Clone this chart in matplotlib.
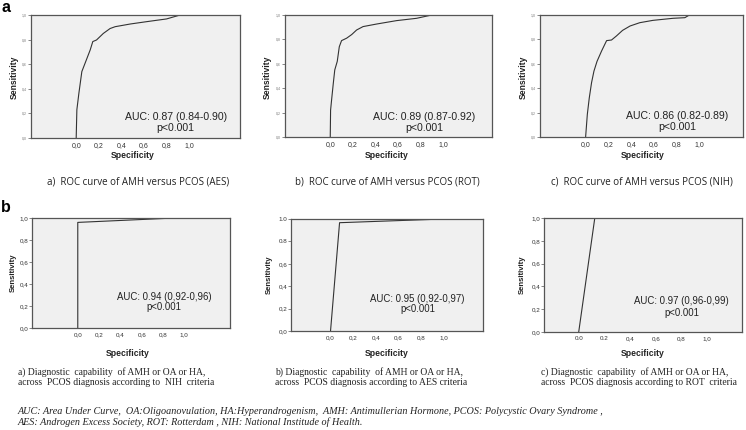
import matplotlib.pyplot as plt

W, H = 746, 430

# ROC curves, row a (x = 1 - specificity as drawn, y = sensitivity)
aes_x = [0.0, 0.006, 0.024, 0.05, 0.09, 0.124, 0.147, 0.18, 0.24, 0.30, 0.345, 0.48, 0.625, 0.80, 0.92, 1.0]
aes_y = [0.0, 0.23, 0.365, 0.54, 0.635, 0.716, 0.784, 0.797, 0.85, 0.89, 0.905, 0.927, 0.946, 0.968, 1.0, 1.0]

rot_x = [0.0, 0.003, 0.012, 0.027, 0.04, 0.062, 0.08, 0.10, 0.145, 0.19, 0.233, 0.29, 0.41, 0.587, 0.764, 0.897, 1.0]
rot_y = [0.0, 0.22, 0.305, 0.44, 0.55, 0.62, 0.74, 0.79, 0.81, 0.84, 0.877, 0.905, 0.926, 0.954, 0.973, 1.0, 1.0]

nih_x = [0.0, 0.015, 0.032, 0.052, 0.073, 0.10, 0.14, 0.184, 0.227, 0.27, 0.324, 0.39, 0.475, 0.59, 0.767, 0.87, 0.91, 1.0]
nih_y = [0.0, 0.186, 0.32, 0.445, 0.54, 0.62, 0.705, 0.79, 0.795, 0.828, 0.874, 0.91, 0.937, 0.956, 0.973, 0.978, 1.0, 1.0]

# row b
b1_x = [0.0, 0.0, 0.91, 1.0]
b1_y = [0.0, 0.96, 1.0, 1.0]
b2_x = [0.0, 0.08, 1.0]
b2_y = [0.0, 0.967, 1.0]
b3_x = [0.0, 0.125, 1.0]
b3_y = [0.0, 1.0, 1.0]

ticks = [0.0, 0.2, 0.4, 0.6, 0.8, 1.0]
comma_labels = ["0,0", "0,2", "0,4", "0,6", "0,8", "1,0"]
b2_ylabels = ["0,0", "0,2", "0,4", "0,6", "0.8", "1.0"]
b3_xlabels = ["0.0", "0.2", "0,4", "0,6", "0,8", "1,0"]

auc_a = ["AUC: 0.87 (0.84-0.90)", "AUC: 0.89 (0.87-0.92)", "AUC: 0.86 (0.82-0.89)"]
auc_b = ["AUC: 0.94 (0,92-0,96)", "AUC: 0.95 (0,92-0,97)", "AUC: 0.97 (0,96-0,99)"]

cap_a = ["a)  ROC curve of AMH versus PCOS (AES)",
         "b)  ROC curve of AMH versus PCOS (ROT)",
         "c)  ROC curve of AMH versus PCOS (NIH)"]
cap_b = ["a) Diagnostic  capability  of AMH or OA or HA,\nacross  PCOS diagnosis according to  NIH  criteria",
         "b) Diagnostic  capability  of AMH or OA or HA,\nacross  PCOS diagnosis according to AES criteria",
         "c) Diagnostic  capability  of AMH or OA or HA,\nacross  PCOS diagnosis according to ROT  criteria"]

footnote = ("AUC: Area Under Curve,  OA:Oligoanovulation, HA:Hyperandrogenism,  AMH: Antimullerian Hormone, "
            "PCOS: Polycystic Ovary Syndrome ,\n"
            "AES: Androgen Excess Society, ROT: Rotterdam , NIH: National Institude of Health.")

plt.rcParams['font.family'] = ['Liberation Sans', 'DejaVu Sans']

fig = plt.figure(figsize=(W / 100, H / 100), dpi=100)


def fx(px):
    return px / W


def fy(py):
    return 1 - py / H


def make_ax(l, r, t, b, xlim, x, y, auc, auc_pos, row, xlabels, ylabels):
    ax = fig.add_axes([fx(l), fy(b), (r - l) / W, (b - t) / H])
    ax.set_facecolor("#f0f0f0")
    ax.plot(x, y, color="#333333", lw=0.8)
    ax.set_xlim(*xlim)
    ax.set_ylim(0, 1)
    for s in ax.spines.values():
        s.set_color("#555555")
        s.set_linewidth(0.9)
    ax.set_xticks(ticks)
    ax.set_xticklabels(xlabels)
    ax.set_yticks(ticks)
    ax.set_yticklabels(ylabels)
    if row == "a":
        ax.tick_params(axis="y", length=2, width=0.5, labelsize=2.5, labelcolor="#777777", pad=1, color="#555555")
        ax.tick_params(axis="x", length=0, labelsize=5, labelcolor="#333333", pad=3)
        fs = 7.6
    else:
        ax.tick_params(axis="y", length=2, width=0.5, labelsize=4.5, labelcolor="#333333", pad=0.5, color="#555555")
        ax.tick_params(axis="x", length=0, labelsize=4.5, labelcolor="#333333", pad=3)
        fs = 6.9
    ax.text(auc_pos[0], auc_pos[1], auc, ha="center", va="center", fontsize=fs, color="#222222")
    ax.text(auc_pos[0], auc_pos[2], "p<0.001", ha="center", va="center", fontsize=fs, color="#222222")
    return ax


make_ax(31, 240, 15, 138, (-0.40, 1.45), aes_x, aes_y, auc_a[0], (0.88, 0.17, 0.08), "a", comma_labels, comma_labels)
make_ax(285, 492, 15, 137, (-0.40, 1.43), rot_x, rot_y, auc_a[1], (0.83, 0.16, 0.07), "a", comma_labels, comma_labels)
make_ax(540, 743, 15, 137, (-0.40, 1.38), nih_x, nih_y, auc_a[2], (0.80, 0.17, 0.08), "a", comma_labels, comma_labels)

make_ax(32, 230, 218, 328, (-0.43, 1.43), b1_x, b1_y, auc_b[0], (0.81, 0.28, 0.19), "b", comma_labels, comma_labels)
make_ax(291, 483, 219, 331, (-0.35, 1.35), b2_x, b2_y, auc_b[1], (0.77, 0.29, 0.20), "b", comma_labels, b2_ylabels)
make_ax(544, 742, 218, 332, (-0.27, 1.27), b3_x, b3_y, auc_b[2], (0.80, 0.27, 0.17), "b", b3_xlabels, comma_labels)

# axis titles
for xp, yp, fs in [(14, 77, 6.2), (267, 77, 6.2), (523, 77, 6.2), (13, 273, 5.6), (269, 275, 5.6), (522, 275, 5.6)]:
    fig.text(fx(xp), fy(yp), "Sensitivity", rotation=90, ha="center", va="center",
             fontsize=fs, fontweight="bold", color="#222222")
for xp, yp in [(133, 156), (387, 156), (643, 156), (128, 354), (387, 354), (643, 354)]:
    fig.text(fx(xp), fy(yp), "Specificity", ha="center", va="center",
             fontsize=6.2, fontweight="bold", color="#222222")

# captions
for xp, c in zip([138, 387, 642], cap_a):
    fig.text(fx(xp), fy(182), c, ha="center", va="center", fontsize=7.0,
             family=["Open Sans", "DejaVu Sans"], color="#222222")
for xp, c in zip([18, 275, 541], cap_b):
    fig.text(fx(xp), fy(377), c, ha="left", va="center", fontsize=6.9,
             family=["Liberation Serif"], color="#222222", linespacing=1.15)

fig.text(fx(18), fy(417), footnote, ha="left", va="center", fontsize=7.3, style="italic",
         family=["Liberation Serif"], color="#222222", linespacing=1.1)

fig.text(fx(1), fy(8), "a", ha="left", va="center", fontsize=11.5, fontweight="bold")
fig.text(fx(1), fy(208), "b", ha="left", va="center", fontsize=11.5, fontweight="bold")

fig.savefig("out.png", dpi=100)
